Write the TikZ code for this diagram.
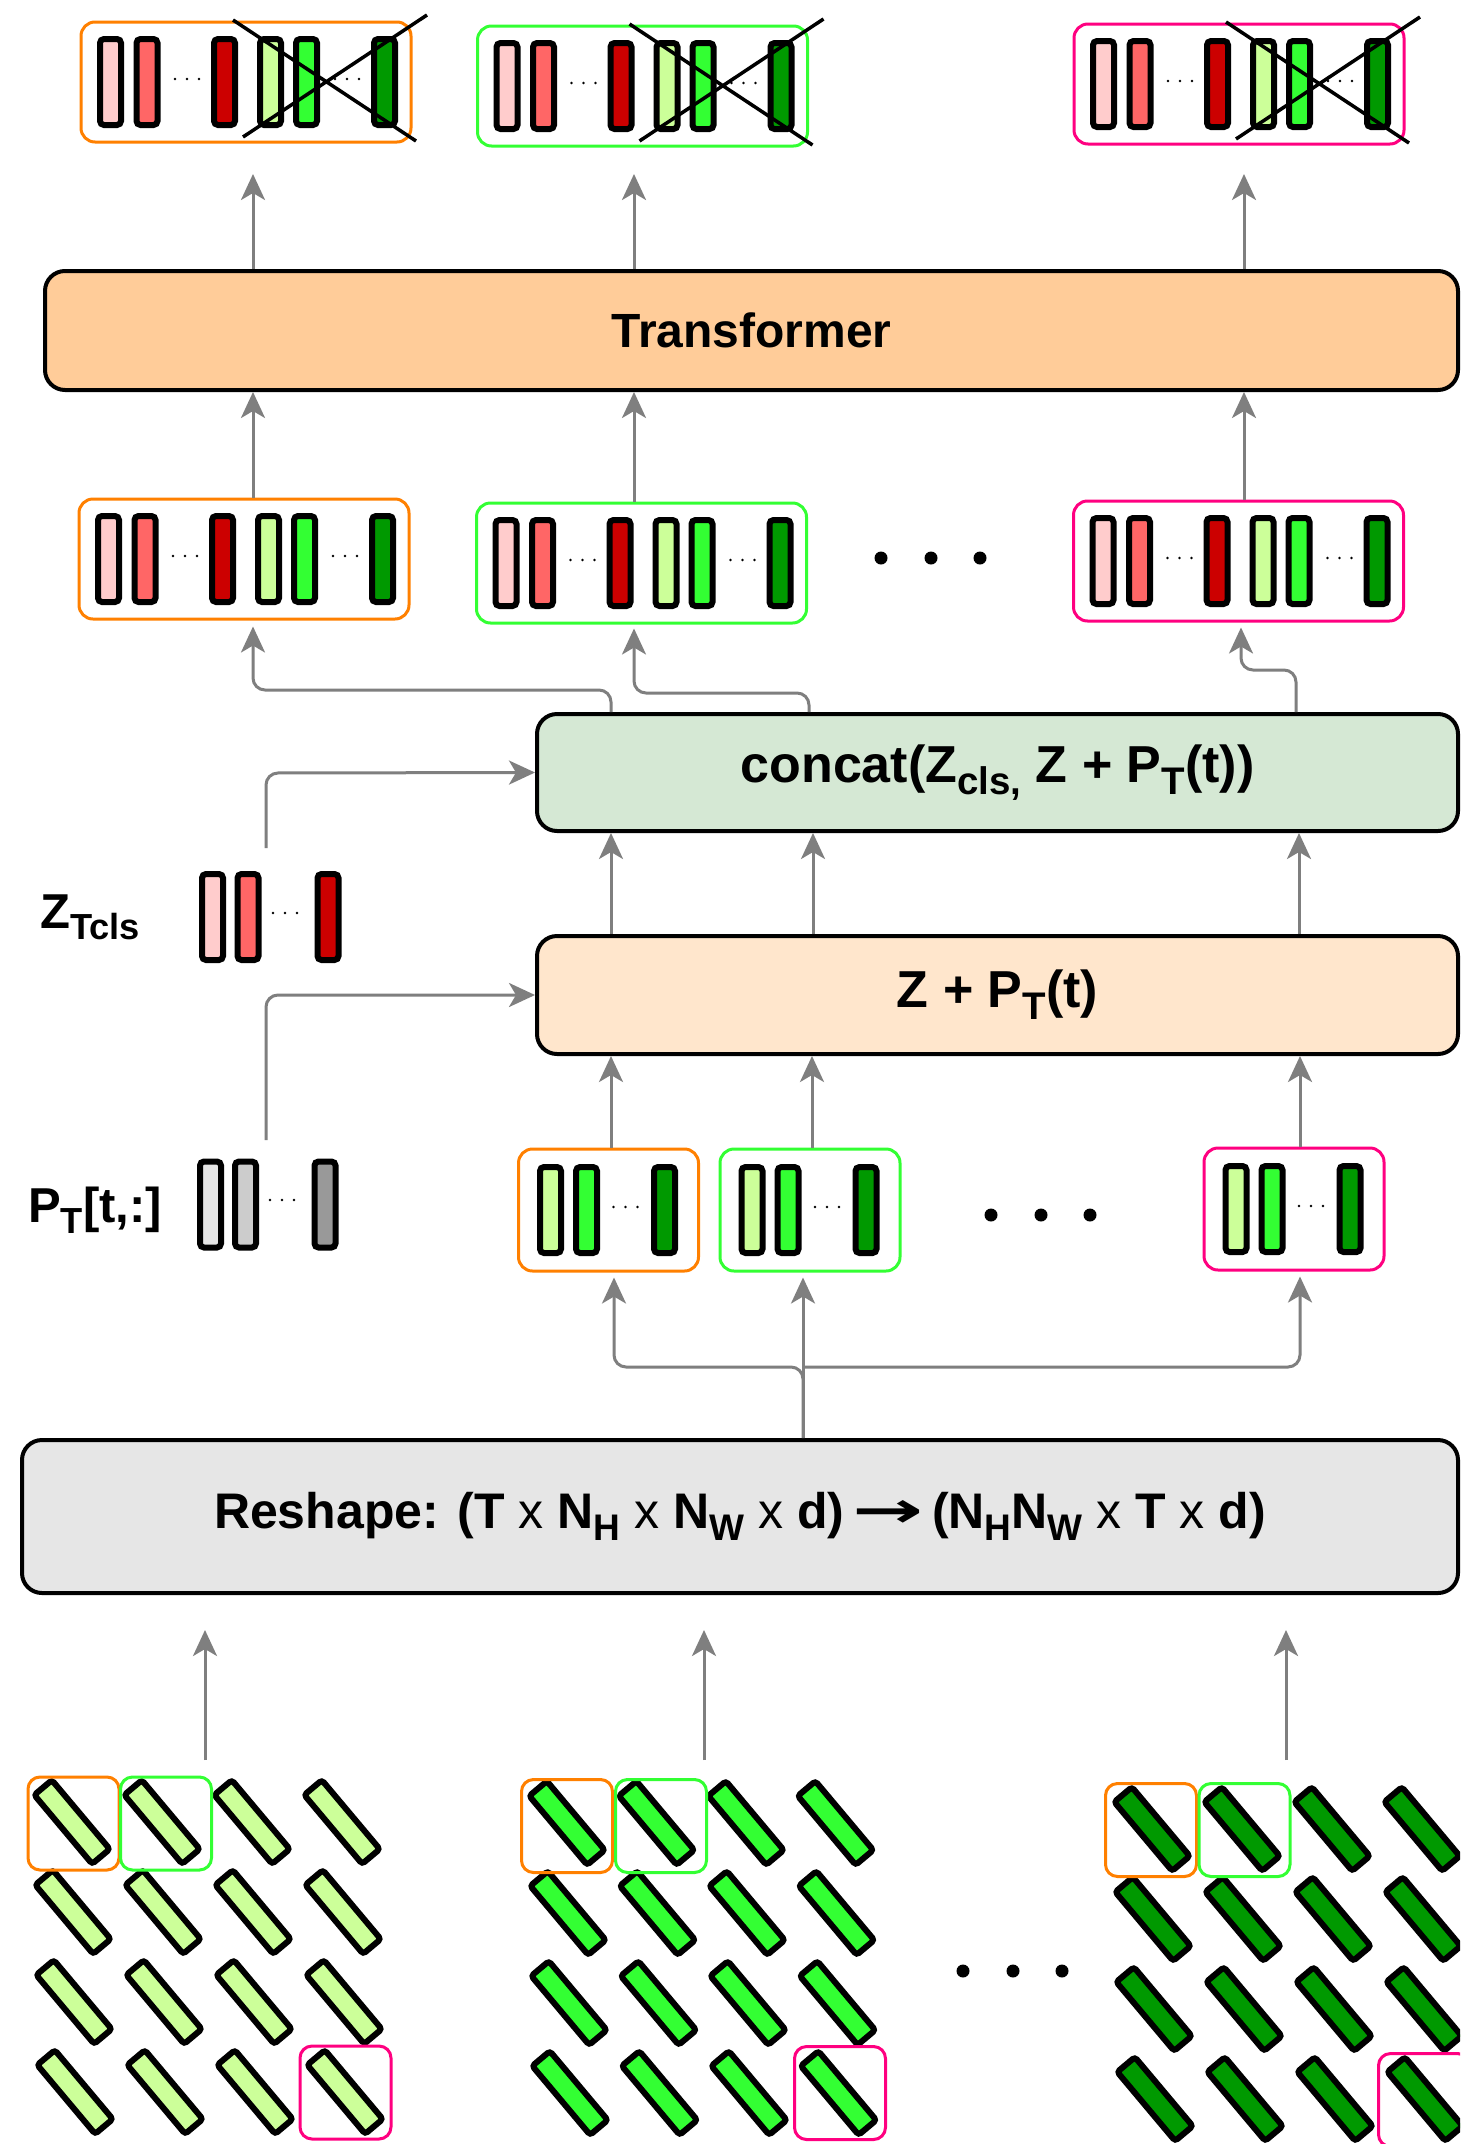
\documentclass[tikz,border=0pt]{standalone}
\usepackage{fontspec}
\usepackage{graphicx}
\setmainfont{Liberation Sans}
\newfontfamily\djv{DejaVu Sans}
\usetikzlibrary{arrows.meta}
\definecolor{cOr}{HTML}{FF8000}
\definecolor{cGr}{HTML}{33FF33}
\definecolor{cPk}{HTML}{FF0080}
\definecolor{r1}{HTML}{FFCCCC}
\definecolor{r2}{HTML}{FF6666}
\definecolor{r3}{HTML}{CC0000}
\definecolor{g1}{HTML}{CCFF99}
\definecolor{g2}{HTML}{33FF33}
\definecolor{g3}{HTML}{009900}
\definecolor{k1}{HTML}{E6E6E6}
\definecolor{k2}{HTML}{CCCCCC}
\definecolor{k3}{HTML}{999999}
\definecolor{agray}{HTML}{7F7F7F}
\definecolor{trf}{HTML}{FFCC99}
\definecolor{ccf}{HTML}{D5E8D4}
\definecolor{zpf}{HTML}{FFE6CC}
\definecolor{rsf}{HTML}{E6E6E6}
\newcommand\fsz[1]{\fontsize{#1}{#1}\selectfont\bfseries}
\makeatletter
\newcommand\sbs[1]{\raisebox{-0.23em}{\fontsize{\fpeval{0.74*\f@size}}{10}\selectfont #1}}
\makeatother
\newcommand\xx{{\mdseries x}}
\newcommand\rarr{\raisebox{0.02em}{\scalebox{1.7}[1.0]{\djv\bfseries →}}}
\tikzset{
  tok/.pic={\draw[line width=6pt, rounded corners=4pt, fill=#1] (-10.5,-43) rectangle (10.5,43);},
  tdots/.pic={\fill (-12,0) circle (1.4) (0,0) circle (1.4) (12,0) circle (1.4);},
  patch/.pic={\draw[line width=6pt, rounded corners=3pt, fill=#1, rotate=-50] (-45,-11.5) rectangle (45,11.5);},
  cont/.style={draw, line width=3pt, rounded corners=14pt, inner sep=0pt},
  hl/.style={draw, line width=3pt, rounded corners=12pt, inner sep=0pt, minimum width=91pt, minimum height=93pt},
  mainbox/.style={draw=black, line width=4pt, rounded corners=20pt, inner sep=0pt},
  arr/.style={draw=agray, line width=3pt, rounded corners=12pt, -{Stealth[length=26pt, width=24pt, inset=7pt]}},
  lab/.style={inner sep=0pt, anchor=base west, font=\fsz{49}},
}
\newcommand\bigrow[5]{%
\begin{scope}[shift={(#2,#3)}]
\node[cont, draw=#4, minimum width=330pt, minimum height=120pt] (#1) at (0,0) {};
\foreach \dx/\c in {-135.5/r1,-99/r2,-21.5/r3,24.5/g1,60.5/g2,138.5/g3} \pic at (\dx,0) {tok=\c};
\pic at (-59,-3) {tdots};
\pic at (101,-3) {tdots};
\ifnum#5=1 \draw[line width=3.5pt] (-13,-62) -- (170,59) (-3,55) -- (181,-67);\fi
\end{scope}}
\newcommand\smallrow[4]{%
\begin{scope}[shift={(#2,#3)}]
\node[cont, draw=#4, minimum width=180pt, minimum height=122pt] (#1) at (0,0) {};
\foreach \dx/\c in {-58/g1,-22/g2,56/g3} \pic at (\dx,0) {tok=\c};
\pic at (17,-3) {tdots};
\end{scope}}
\newcommand\patchgrid[4]{%
\foreach \i in {0,...,3}{\foreach \j in {0,...,3}{\pic at ({#1+#4*\i+1*\j},{#2+90*\j}) {patch=#3};}}}
\begin{document}
\begin{tikzpicture}[x=1pt,y=-1pt]
\useasboundingbox (0,0) rectangle (1460,2144);
\clip (0,0) rectangle (1460,2144);
\fill[white] (0,0) rectangle (1460,2144);

% main boxes
\node[mainbox, fill=trf, minimum width=1413pt, minimum height=119pt, font=\fsz{48}] (tr) at (751.5,330.5) {Transformer};
\node[mainbox, fill=ccf, minimum width=921pt, minimum height=117pt, font=\fsz{52}] (cc) at (997.5,772.5) {concat(Z\sbs{cls,} Z + P\sbs{T}(t))};
\node[mainbox, fill=zpf, minimum width=921pt, minimum height=118pt, font=\fsz{52}] (zp) at (997.5,995) {Z + P\sbs{T}(t)};
\node[mainbox, fill=rsf, minimum width=1436pt, minimum height=153pt, font=\fsz{50}] (rs) at (740,1516.5) {Reshape: (T \xx{} N\sbs{H} \xx{} N\sbs{W} \xx{} d)\,\rarr\,(N\sbs{H}N\sbs{W} \xx{} T \xx{} d)};

% token rows
\bigrow{r1a}{246}{82}{cOr}{1}
\bigrow{r1b}{642.5}{86}{cGr}{1}
\bigrow{r1c}{1239}{84}{cPk}{1}
\bigrow{r2a}{244}{559}{cOr}{0}
\bigrow{r2b}{641.5}{563}{cGr}{0}
\bigrow{r2c}{1238.5}{561}{cPk}{0}
\smallrow{r3a}{608.5}{1210}{cOr}
\smallrow{r3b}{810}{1210}{cGr}
\smallrow{r3c}{1294}{1209}{cPk}

\fill (881,558) circle (6.5) (931,558) circle (6.5) (980,558) circle (6.5);
\fill (991,1215) circle (6.5) (1041,1215) circle (6.5) (1090,1215) circle (6.5);
\fill (963,1971) circle (6.5) (1013,1971) circle (6.5) (1062,1971) circle (6.5);

% Z_Tcls and P_T
\node[lab] (zl) at (40,928) {Z\sbs{Tcls}};
\foreach \dx/\c in {212.5/r1,248/r2,328/r3} \pic at (\dx,917) {tok=\c};
\pic at (285,913) {tdots};
\node[lab] (pl) at (28,1222) {P\sbs{T}[t,:]};
\foreach \dx/\c in {210.5/k1,245.5/k2,325/k3} \pic at (\dx,1204.5) {tok=\c};
\pic at (282,1200) {tdots};

% patch grids
\patchgrid{72}{1822}{g1}{90}
\patchgrid{567}{1823}{g2}{89.5}
\patchgrid{1152}{1829}{g3}{90}
\node[hl, draw=cOr] (h1a) at (73.5,1823.5) {};
\node[hl, draw=cGr] (h1b) at (166,1823.5) {};
\node[hl, draw=cPk] (h1c) at (345.5,2092.5) {};
\node[hl, draw=cOr] (h2a) at (567,1826) {};
\node[hl, draw=cGr] (h2b) at (661,1826) {};
\node[hl, draw=cPk] (h2c) at (840,2093) {};
\node[hl, draw=cOr] (h3a) at (1151,1830) {};
\node[hl, draw=cGr] (h3b) at (1244.5,1830) {};
\node[hl, draw=cPk] (h3c) at (1424,2100) {};

% coordinates
\coordinate (xa) at (253,0);
\coordinate (xb) at (634,0);
\coordinate (xc) at (1244,0);
\coordinate (t1a) at (253,174);
\coordinate (t1b) at (634,174);
\coordinate (t1c) at (1244,174);
\coordinate (ya) at (611,0);
\coordinate (yb) at (813,0);
\coordinate (yc) at (1299,0);
\coordinate (za) at (614,0);
\coordinate (zb) at (803,0);
\coordinate (zc) at (1300,0);
\coordinate (zs) at (266,848);
\coordinate (ps) at (266,1140);
\coordinate (pa1) at (205,1760);
\coordinate (pa2) at (704,1760);
\coordinate (pa3) at (1286,1760);
\coordinate (pt1) at (205,1630);
\coordinate (pt2) at (704,1630);
\coordinate (pt3) at (1286,1630);

% connectors
\foreach \t in {a,b,c} \draw[arr] (tr.north -| t1\t) -- (t1\t);
\foreach \t in {a,b,c} \draw[arr] (r2\t.north -| x\t) -- (tr.south -| x\t);
\draw[arr, shorten >=6pt] (cc.north -| 611,0) -- (611,690) -- (253,690) -- (r2a.south -| xa);
\draw[arr, shorten >=4pt] (cc.north -| 809,0) -- (809,693) -- (634,693) -- (r2b.south -| xb);
\draw[arr, shorten >=5pt] (cc.north -| 1296,0) -- (1296,670) -- (1241,670) -- (r2c.south -| 1241,0);
\foreach \t in {a,b,c} \draw[arr] (zp.north -| y\t) -- (cc.south -| y\t);
\draw[arr] (r3a.north -| ya) -- (zp.south -| ya);
\draw[arr] (r3b.north -| 812,0) -- (zp.south -| 812,0);
\draw[arr] (r3c.north -| zc) -- (zp.south -| zc);
\draw[arr] (zs) -- (266,773) -- (cc.west);
\draw[arr] (ps) -- (266,995) -- (zp.west);
\draw[arr, shorten >=5pt] (rs.north -| zb) -- (r3b.south -| zb);
\draw[arr, shorten >=5pt] (rs.north -| zb) -- (803,1367) -- (614,1367) -- (r3a.south -| za);
\draw[arr, shorten >=5pt] (803,1367) -- (1300,1367) -- (r3c.south -| zc);
\foreach \k in {1,2,3} \draw[arr] (pa\k) -- (pt\k);
\end{tikzpicture}
\end{document}
